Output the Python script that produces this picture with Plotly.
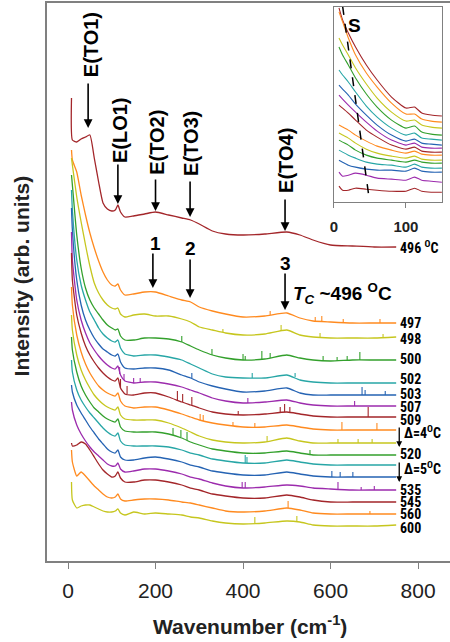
import plotly.graph_objects as go

# ---------------- data ----------------
WAVENUMBER = [8, 10, 20, 30, 40, 50, 60, 70, 80, 90, 100, 108, 114, 120, 130, 150, 175, 200,
              230, 260, 280, 300, 330, 360, 400, 450, 500, 530, 560, 600, 650, 700, 750]

TEMPS = ["496", "497", "498", "500", "502", "503", "507", "509", "512", "516",
         "520", "525", "530", "535", "545", "560", "600"]

I_496 = [463, 421, 419, 422, 424, 426, 403, 379, 358, 352, 350, 351, 356, 349, 344, 345, 347, 349,
         346, 343, 341, 337, 330, 327, 326, 327, 329, 326, 321, 316, 315, 314, 314]
I_497 = [411, 401, 389, 366, 346, 328, 313, 300, 289, 281, 276, 275, 277, 271, 266, 267, 269, 269,
         265, 261, 259, 254, 250, 247, 244, 245, 248, 243, 240, 239, 238, 238, 238]
I_498 = [403, 396, 364, 339, 316, 295, 278, 268, 261, 256, 253, 252, 253, 247, 244, 246, 247, 245,
         245, 242, 239, 234, 231, 228, 226, 227, 231, 226, 224, 223, 223, 223, 224]
I_500 = [386, 376, 326, 293, 273, 261, 253, 247, 241, 236, 233, 231, 232, 225, 221, 221, 223, 223,
         222, 219, 215, 211, 206, 203, 201, 202, 206, 203, 201, 200, 201, 201, 201]
I_502 = [371, 351, 301, 276, 261, 249, 241, 233, 227, 223, 220, 219, 221, 213, 207, 205, 206, 206,
         204, 201, 197, 193, 187, 184, 183, 183, 186, 181, 179, 178, 178, 178, 178]
I_503 = [353, 331, 281, 256, 241, 231, 223, 217, 212, 209, 206, 205, 207, 199, 193, 192, 193, 193,
         191, 186, 183, 179, 175, 172, 169, 170, 173, 168, 166, 166, 166, 166, 166]
I_507 = [329, 301, 261, 241, 228, 218, 211, 205, 200, 196, 193, 192, 195, 186, 180, 178, 179, 179,
         177, 174, 171, 168, 163, 160, 158, 159, 161, 158, 156, 155, 155, 155, 155]
I_509 = [308, 281, 246, 228, 215, 206, 199, 193, 188, 184, 181, 180, 183, 173, 167, 166, 168, 168,
         164, 159, 156, 153, 149, 147, 146, 147, 149, 147, 145, 144, 144, 144, 144]
I_512 = [274, 256, 226, 209, 197, 188, 181, 175, 171, 168, 166, 165, 168, 160, 155, 153, 154, 154,
         151, 147, 144, 141, 138, 136, 134, 134, 136, 134, 132, 131, 131, 131, 131]
I_516 = [246, 231, 206, 191, 181, 173, 166, 161, 157, 154, 152, 151, 154, 146, 142, 141, 141, 141,
         138, 133, 129, 125, 121, 119, 118, 119, 123, 120, 118, 118, 118, 118, 118]
I_520 = [224, 211, 189, 175, 166, 159, 153, 149, 145, 142, 140, 139, 142, 134, 130, 129, 129, 129,
         127, 123, 119, 116, 112, 110, 108, 108, 110, 108, 106, 106, 106, 106, 106]
I_525 = [201, 189, 171, 161, 154, 148, 143, 138, 133, 129, 126, 125, 128, 120, 116, 115, 115, 115,
         114, 111, 108, 106, 102, 100, 98, 98, 101, 99, 97, 96, 96, 96, 96]
I_530 = [176, 169, 156, 148, 141, 134, 128, 122, 117, 112, 109, 108, 111, 104, 101, 101, 103, 104,
         102, 99, 96, 94, 90, 88, 86, 86, 89, 87, 85, 84, 84, 84, 84]
I_535 = [159, 151, 136, 127, 120, 114, 109, 105, 101, 97, 95, 95, 98, 92, 89, 90, 92, 92,
         90, 87, 84, 82, 78, 75, 73, 74, 76, 75, 73, 72, 71, 71, 71]
I_545 = [118, 115, 116, 119, 117, 111, 104, 97, 91, 87, 84, 85, 89, 83, 79, 79, 81, 81,
         79, 76, 73, 71, 67, 65, 63, 63, 66, 64, 61, 59, 59, 59, 59]
I_560 = [111, 99, 85, 89, 85, 80, 75, 71, 67, 64, 63, 64, 67, 62, 60, 61, 62, 62,
         61, 59, 58, 56, 53, 50, 49, 50, 53, 51, 48, 47, 47, 47, 47]
I_600 = [79, 61, 53, 55, 56, 56, 54, 52, 50, 49, 49, 50, 52, 48, 46, 49, 47, 48,
         47, 46, 44, 43, 40, 38, 37, 38, 40, 39, 36, 35, 35, 35, 36]

SPECTRA = [I_496, I_497, I_498, I_500, I_502, I_503, I_507, I_509, I_512, I_516,
           I_520, I_525, I_530, I_535, I_545, I_560, I_600]

# cosmic-ray spikes: (wavenumber, base intensity, top intensity) per spectrum
SPK_496 = []
SPK_497 = [(462, 246, 250), (565, 240, 244), (580, 240, 245), (629, 239, 242), (713, 238, 242)]
SPK_498 = [(354, 229, 232), (487, 230, 236), (576, 224, 228), (720, 223, 227)]
SPK_500 = [(260, 219, 225), (329, 206, 212), (400, 201, 207), (405, 201, 205), (443, 202, 210),
           (462, 203, 208), (583, 200, 205), (615, 200, 204), (638, 201, 205), (667, 201, 209)]
SPK_502 = [(421, 183, 188), (519, 184, 188)]
SPK_503 = [(283, 183, 188), (672, 166, 174), (679, 166, 171), (725, 166, 170)]
SPK_507 = [(118, 187, 194), (128, 181, 187), (150, 178, 183), (165, 178, 183), (411, 158, 163),
           (655, 155, 160)]
SPK_509 = [(120, 173, 182), (135, 167, 175), (250, 160, 170), (262, 159, 167), (283, 156, 164),
           (389, 146, 150), (485, 148, 154), (495, 149, 157), (507, 148, 154), (686, 144, 154)]
SPK_512 = [(302, 141, 147), (309, 140, 146), (377, 135, 139), (427, 134, 138), (626, 131, 139),
           (706, 131, 138)]
SPK_516 = [(455, 119, 125), (617, 118, 122), (663, 118, 122), (695, 118, 122)]
SPK_520 = [(240, 126, 133), (258, 124, 131), (272, 121, 129), (553, 106, 111)]
SPK_525 = [(405, 98, 106), (409, 98, 104)]
SPK_530 = [(603, 84, 90), (622, 84, 89), (651, 84, 89)]
SPK_535 = [(398, 73, 79), (405, 73, 79), (617, 72, 79), (670, 71, 74), (700, 71, 75)]
SPK_545 = []
SPK_560 = [(503, 53, 60), (690, 47, 50)]
SPK_600 = [(427, 38, 44), (523, 39, 45)]

SPIKES = [SPK_496, SPK_497, SPK_498, SPK_500, SPK_502, SPK_503, SPK_507, SPK_509, SPK_512,
          SPK_516, SPK_520, SPK_525, SPK_530, SPK_535, SPK_545, SPK_560, SPK_600]

# inset (low-frequency region)
INSET_W = [7, 12, 20, 30, 45, 60, 80, 100, 112, 122, 135, 150]
INSET_SPECTRA = [
    [194, 182, 169, 155, 137, 122, 105, 94, 95, 89, 87, 86],
    [190, 180, 164, 147, 129, 115, 99, 88, 88, 83, 81, 80],
    [164, 157, 147, 134, 118, 104, 90, 81, 82, 77, 75, 74],
    [155, 147, 137, 124, 108, 95, 82, 74, 76, 70, 68, 67],
    [132, 127, 120, 110, 96, 85, 74, 67, 69, 64, 63, 62],
    [117, 113, 107, 98, 87, 77, 67, 61, 63, 59, 58, 57],
    [107, 103, 97, 90, 80, 71, 62, 57, 59, 55, 54, 54],
    [97, 94, 89, 82, 72, 65, 57, 53, 55, 51, 50, 50],
    [77, 75, 72, 67, 61, 56, 52, 49, 51, 48, 47, 47],
    [69, 67, 64, 59, 53, 49, 46, 44, 46, 43, 42, 42],
    [62, 60, 57, 52, 47, 44, 42, 40, 42, 40, 39, 39],
    [52, 50, 47, 44, 40, 38, 37, 35, 38, 35, 34, 34],
    [42, 40, 37, 35, 33, 32, 32, 31, 34, 31, 30, 30],
    [30, 26, 27, 29, 27, 24, 23, 22, 25, 22, 21, 20],
    [16, 12, 12, 14, 13, 12, 11, 11, 14, 11, 10, 10],
]
S_LINE_W = [12, 50]
S_LINE_I = [196, -2]

X_TICKS = [0, 200, 400, 600, 800]
INSET_X_TICKS = [0, 100]

# label texts / positions (data coords)
RIGHT_LABELS = [("496 <sup>O</sup>C", 314), ("497", 238), ("498", 222), ("500", 202),
                ("502", 182), ("503", 167), ("507", 154), ("509", 141),
                ("Δ=4<sup>O</sup>C", 129), ("520", 107), ("Δ=5<sup>O</sup>C", 93),
                ("535", 71), ("545", 59), ("560", 47), ("600", 33)]
PEAKS = [  # text, text_x, text_y, arrow_x, arrow_y, arrow_len_px
    ("E(TO1)", 53, 516, 46, 433, 46),
    ("E(LO1)", 119, 431, 114, 357, 41),
    ("E(TO2)", 203, 419, 200, 350, 33),
    ("E(TO3)", 281, 418, 279, 344, 37),
    ("E(TO4)", 498, 401, 496, 330, 33),
]
MODES = [("1", 199, 318, 194, 273, 36), ("2", 279, 313, 279, 263, 40), ("3", 496, 298, 496, 251, 38)]

PALETTE = ["#A3262A", "#FF8A1F", "#C6C61E", "#33A02C", "#27A6A6", "#2563B3", "#9C2BAD"]

FONT = "Liberation Sans, Arial, sans-serif"
NARROW = "Liberation Sans Narrow, Arial Narrow, Roboto Condensed, Liberation Sans, sans-serif"

fig = go.Figure()
for k, ys in enumerate(SPECTRA):
    col = PALETTE[k % 7]
    fig.add_trace(go.Scatter(x=WAVENUMBER, y=ys, mode="lines",
                             line=dict(color=col, width=1.3, shape="spline", smoothing=0.5),
                             showlegend=False, hoverinfo="skip"))
    if SPIKES[k]:
        sx, sy = [], []
        for w, b, t in SPIKES[k]:
            sx += [w, w, None]
            sy += [b, t, None]
        fig.add_trace(go.Scatter(x=sx, y=sy, mode="lines", line=dict(color=col, width=1.1),
                                 showlegend=False, hoverinfo="skip"))

for k, ys in enumerate(INSET_SPECTRA):
    fig.add_trace(go.Scatter(x=INSET_W, y=ys, mode="lines", xaxis="x2", yaxis="y2",
                             line=dict(color=PALETTE[k % 7], width=1.1, shape="spline", smoothing=0.6),
                             showlegend=False, hoverinfo="skip"))
fig.add_trace(go.Scatter(x=S_LINE_W, y=S_LINE_I, mode="lines", xaxis="x2", yaxis="y2",
                         line=dict(color="black", width=1.5, dash="dash"),
                         showlegend=False, hoverinfo="skip"))

ann = []
for txt, tx, ty, axx, ayy, ln in PEAKS:
    ann.append(dict(x=tx, y=ty, xref="x", yref="y", text="<b>%s</b>" % txt, textangle=-90,
                    showarrow=False, font=dict(family=FONT, size=20, color="black")))
    ann.append(dict(x=axx, y=ayy, xref="x", yref="y", text="", showarrow=True,
                    ax=0, ay=-ln, arrowhead=2, arrowsize=1.1, arrowwidth=1.6, arrowcolor="black"))
for txt, tx, ty, axx, ayy, ln in MODES:
    ann.append(dict(x=tx, y=ty, xref="x", yref="y", text="<b>%s</b>" % txt,
                    showarrow=False, font=dict(family=FONT, size=19, color="black")))
    ann.append(dict(x=axx, y=ayy, xref="x", yref="y", text="", showarrow=True,
                    ax=0, ay=-ln, arrowhead=2, arrowsize=1.1, arrowwidth=1.6, arrowcolor="black"))
ann.append(dict(x=510, y=268, xref="x", yref="y", xanchor="left", yanchor="middle",
                text="<b><i>T<sub>C</sub></i> ~496 <sup>O</sup>C</b>", showarrow=False,
                font=dict(family=FONT, size=19, color="black")))

for txt, ty in RIGHT_LABELS:
    xx = 763 if txt.startswith("Δ") else 755
    ann.append(dict(x=xx, y=ty, xref="x", yref="y", xanchor="left", yanchor="middle",
                    text="<b>%s</b>" % txt,
                    showarrow=False, font=dict(family=NARROW, size=14, color="black")))
for head in (114, 79):
    ann.append(dict(x=757, y=head, xref="x", yref="y", text="", showarrow=True,
                    ax=0, ay=-21, arrowhead=2, arrowsize=0.9, arrowwidth=1.3, arrowcolor="black"))

ann.append(dict(x=29, y=176, xref="x2", yref="y2", text="<b>S</b>", showarrow=False,
                font=dict(family=FONT, size=19, color="black")))

ann.append(dict(x=-0.0645, y=0.51, xref="paper", yref="paper", xanchor="center", yanchor="middle",
                text="<b>Intensity (arb. units)</b>",
                textangle=-90, showarrow=False, font=dict(family=FONT, size=21, color="#222")))
ann.append(dict(x=0.504, y=-0.1147, xref="paper", yref="paper", xanchor="center", yanchor="middle",
                text="<b>Wavenumber (cm<sup>-1</sup>)</b>", showarrow=False,
                font=dict(family=FONT, size=21, color="#222")))

fig.update_layout(
    width=450, height=642,
    margin=dict(l=47, r=0, t=3, b=81),
    paper_bgcolor="white", plot_bgcolor="white",
    showlegend=False,
    annotations=ann,
    xaxis=dict(domain=[0, 1], range=[-48, 873], tickvals=X_TICKS, ticks="outside", ticklen=6,
               tickwidth=1.3, tickcolor="#808080", showline=True, linecolor="#808080", linewidth=1.5,
               mirror=True, showgrid=False, zeroline=False, ticklabelstandoff=4,
               tickfont=dict(family=FONT, size=21, color="#222")),
    yaxis=dict(domain=[0, 1], range=[0, 558], showticklabels=False, ticks="", showline=True,
               linecolor="#808080", linewidth=1.5, showgrid=False, zeroline=False),
    xaxis2=dict(domain=[0.712, 0.980], range=[0, 150], anchor="y2", tickvals=INSET_X_TICKS,
                ticktext=["<b>0</b>", "<b>100</b>"], ticks="outside", ticklen=5, tickcolor="#808080",
                showline=True, linecolor="#808080", linewidth=1.3, mirror=True, showgrid=False,
                zeroline=False, ticklabelstandoff=6,
                tickfont=dict(family=FONT, size=15, color="#222")),
    yaxis2=dict(domain=[0.643, 0.993], range=[0, 195], anchor="x2", showticklabels=False,
                ticks="", showline=True, linecolor="#808080", linewidth=1.3, mirror=True,
                showgrid=False, zeroline=False),
)

fig.write_html("out.html", config={"displayModeBar": False},
               post_script="document.body.style.margin='0';document.body.style.padding='0';")
